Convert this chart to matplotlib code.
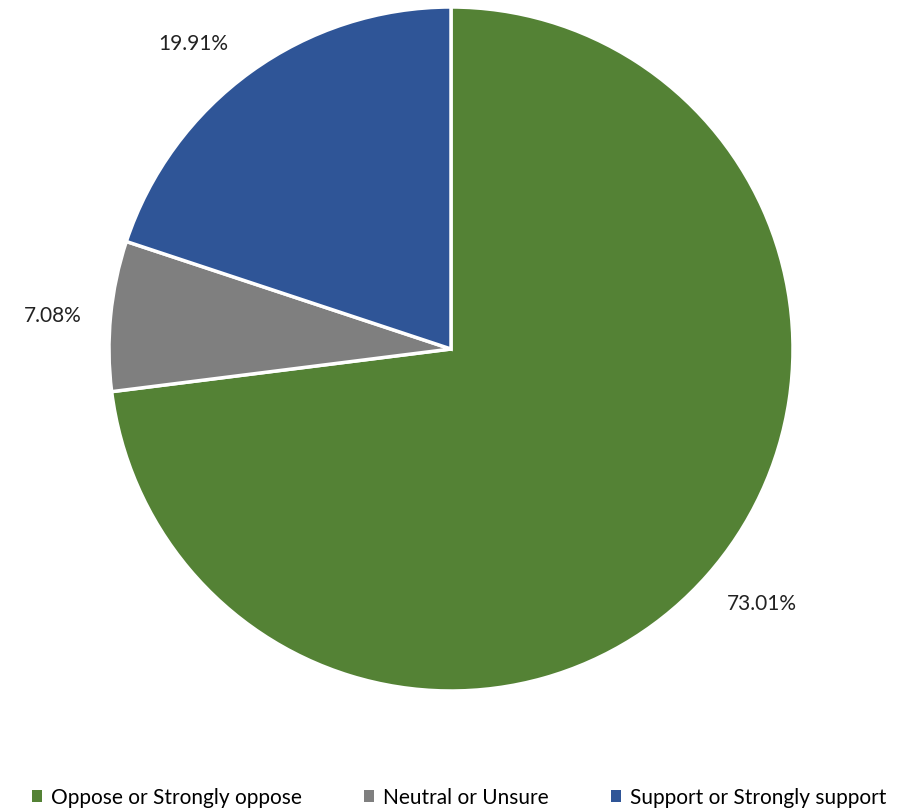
import matplotlib
matplotlib.use("Agg")
import matplotlib.pyplot as plt
from matplotlib.patches import Patch

categories = ['Oppose or Strongly oppose', 'Neutral or Unsure', 'Support or Strongly support']
shares = [73.01, 7.08, 19.91]
colors = ['#548235', '#7f7f7f', '#2f5597']
# label positions (data units, pie radius 1) as placed in the original
label_pos = [(0.909, -0.743), (-1.164, 0.099), (-0.754, 0.895)]

fig = plt.figure(figsize=(9.05, 8.12), dpi=100)
ax = fig.add_axes([109 / 905, 120 / 812, 684 / 905, 684 / 812])

wedges, texts, autotexts = ax.pie(
    shares, colors=colors, startangle=90, counterclock=False,
    autopct=lambda p: f'{p:.2f}%', pctdistance=1.17, radius=1,
    wedgeprops=dict(edgecolor='white', linewidth=2.5),
    textprops=dict(fontsize=15, family='Lato', color='#222222'))
for t, pos in zip(autotexts, label_pos):
    t.set_position(pos)
ax.set_xlim(-1, 1)
ax.set_ylim(-1, 1)
ax.set_aspect('equal')

handles = [Patch(facecolor=c, edgecolor='none') for c in colors]
fig.legend(handles, categories, loc='center', bbox_to_anchor=(0.507, 1 - 798 / 812),
           ncol=3, frameon=False, handlelength=0.5, handleheight=0.5,
           handletextpad=0.4, columnspacing=3.0,
           prop=dict(family='Lato', size=15))

fig.savefig('out.png', dpi=100)
